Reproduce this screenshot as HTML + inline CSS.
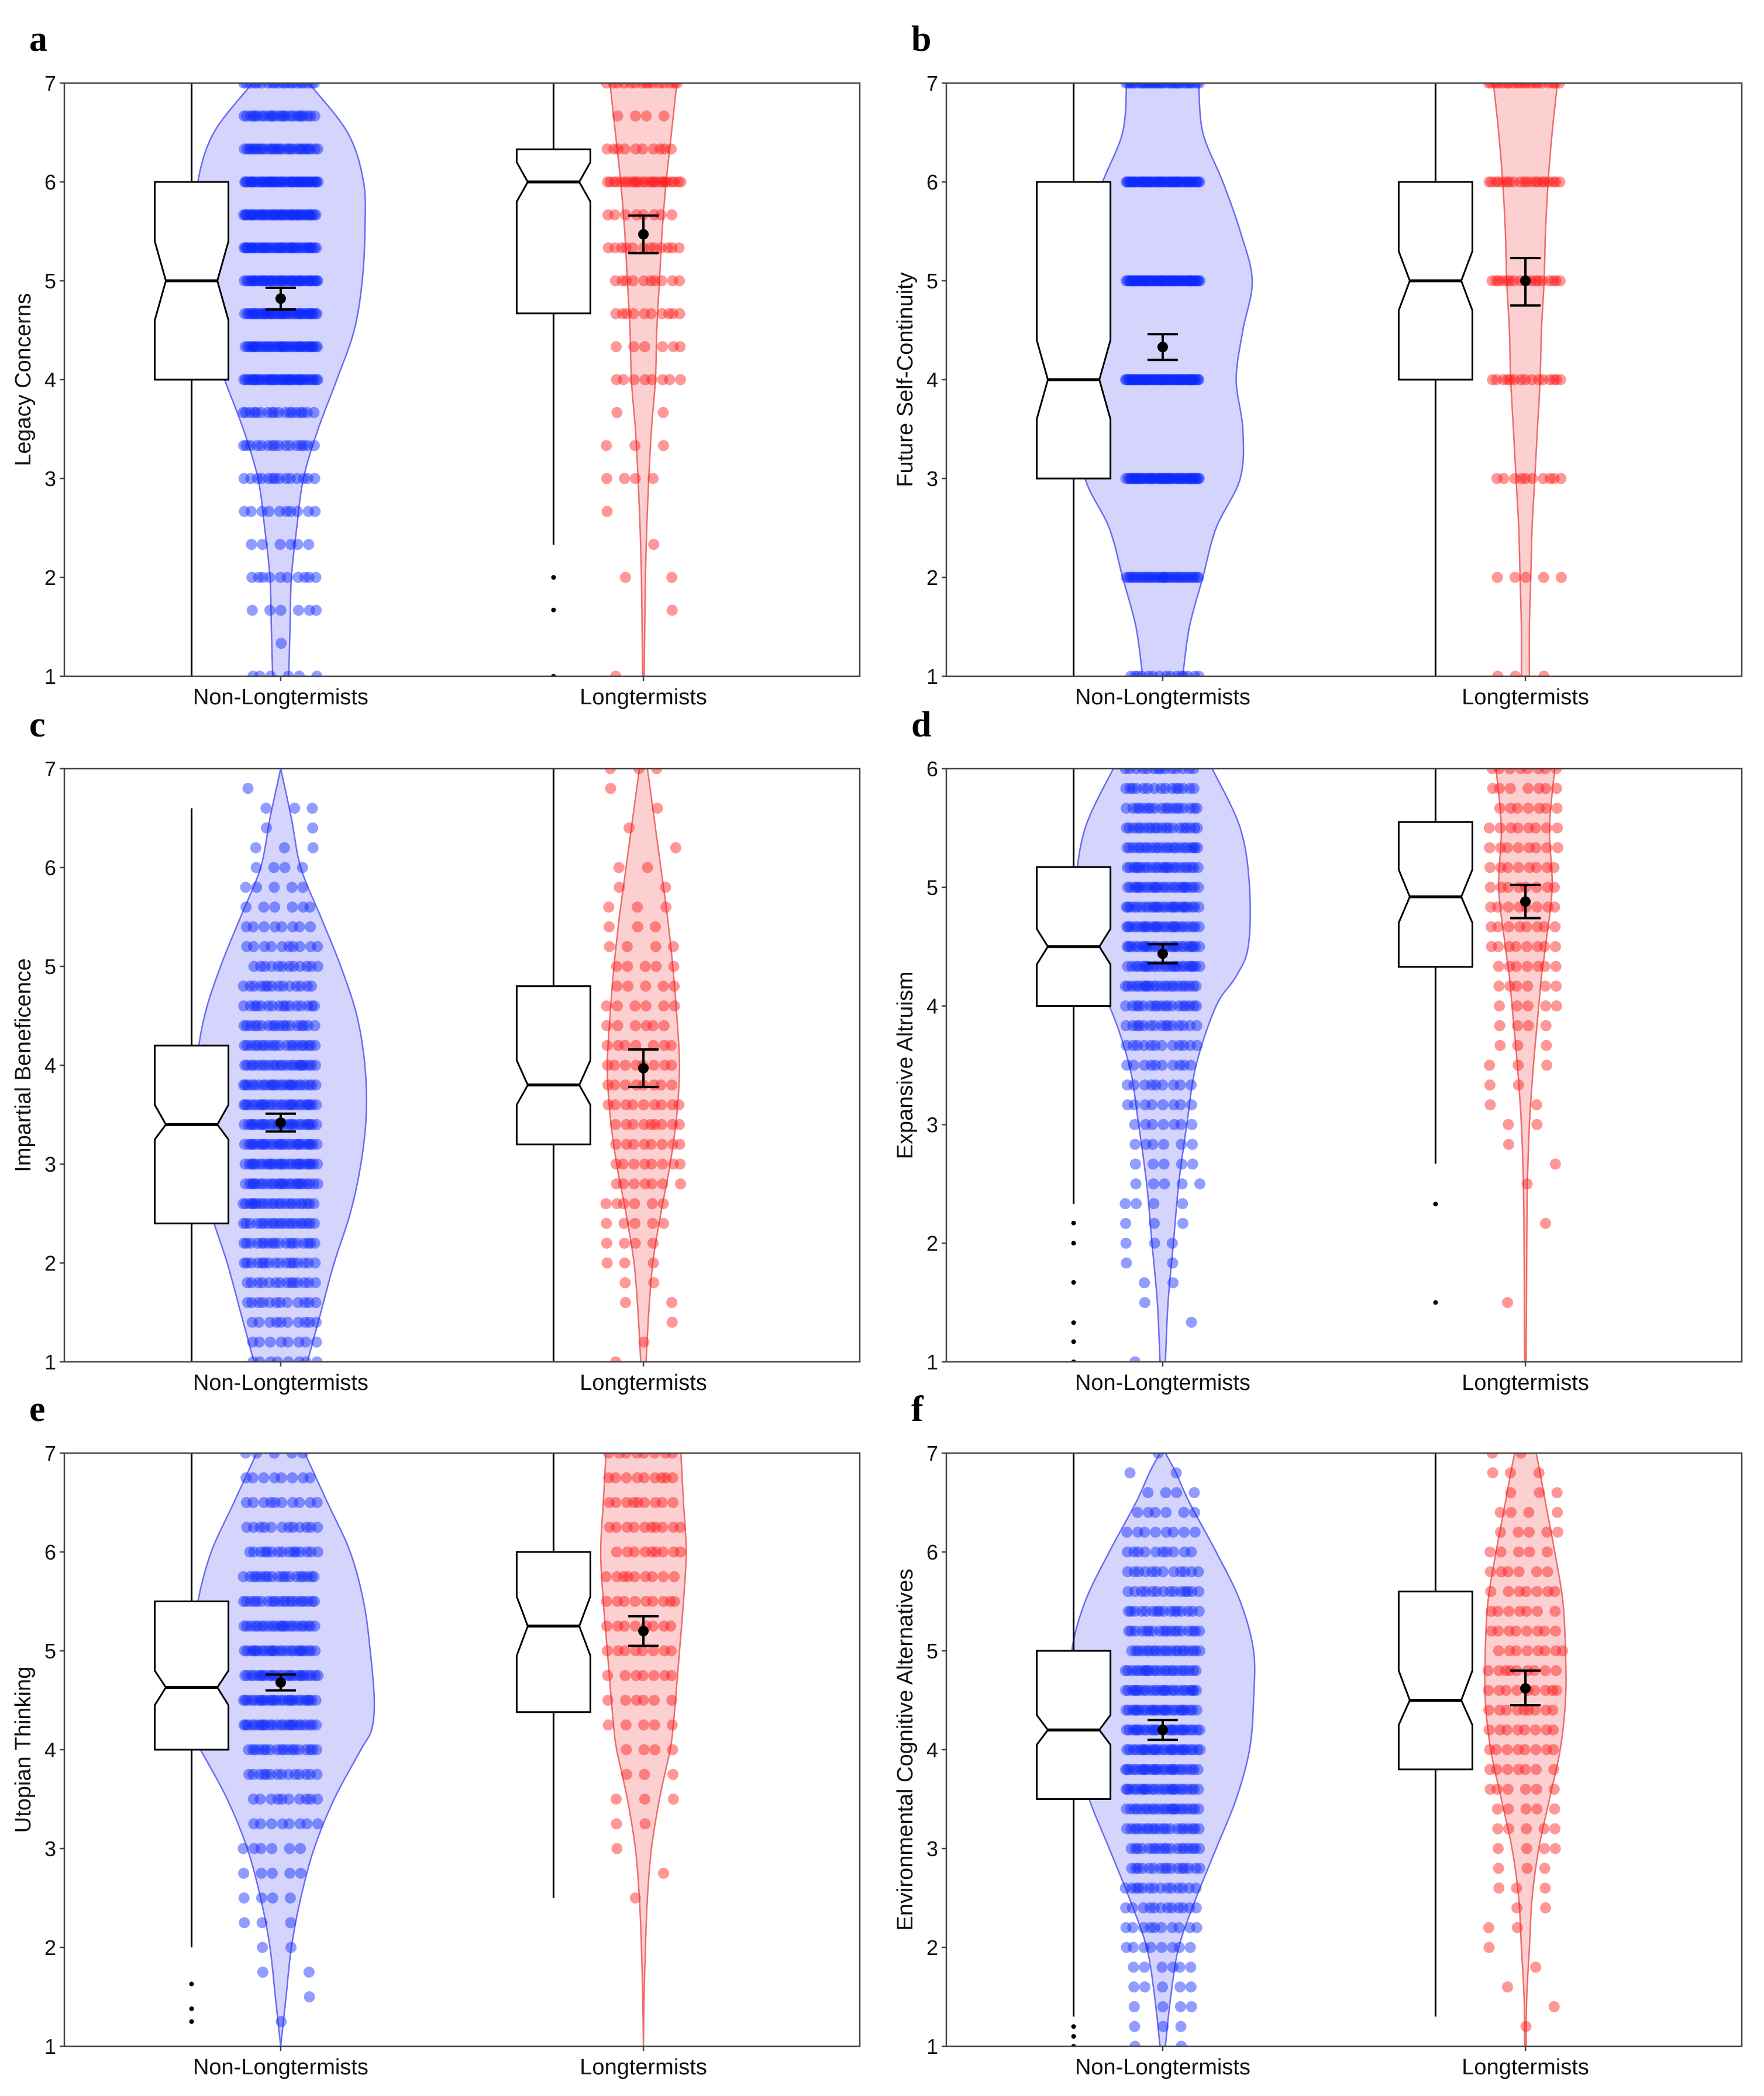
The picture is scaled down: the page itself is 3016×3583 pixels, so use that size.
<!DOCTYPE html>
<html><head><meta charset="utf-8"><style>
html,body{margin:0;padding:0;background:#fff}
svg{display:block}
</style></head><body>
<svg id="fig" width="3016" height="3583" viewBox="0 0 3016 3583" xmlns="http://www.w3.org/2000/svg" style="font-family:'Liberation Sans',Arial,sans-serif"></svg>
<script>
// ---------- DATA ----------
const panelLetters = ["a","b","c","d","e","f"];
const panelTitles = ["Legacy Concerns","Future Self-Continuity","Impartial Beneficence","Expansive Altruism","Utopian Thinking","Environmental Cognitive Alternatives"];
const panelYMin = [1,1,1,1,1,1];
const panelYMax = [7,7,7,6,7,7];
const categories = ["Non-Longtermists","Longtermists"];

// box stats [q1, median, q3, whiskerLow, whiskerHigh, notchLow, notchHigh]
const boxNon = [[4,5,6,1,7,4.6,5.4],[3,4,6,1,7,3.6,4.4],[2.4,3.4,4.2,1,6.6,3.25,3.6],[4,4.5,5.17,2.33,6,4.35,4.65],[4,4.63,5.5,2,7,4.45,4.8],[3.5,4.2,5,1.3,7,4.05,4.35]];
const boxLong = [[4.67,6,6.33,2.33,7,5.8,6.2],[4,5,6,1,7,4.7,5.3],[3.2,3.8,4.8,1,7,3.6,4.05],[4.33,4.92,5.55,2.67,6,4.7,5.15],[4.38,5.25,6,2.5,7,4.95,5.55],[3.8,4.5,5.6,1.3,7,4.25,4.8]];
const outliersNon = [[],[],[],[2.17,2,1.67,1.33,1.17,1],[1.63,1.38,1.25],[1.2,1.1,1.0]];
const outliersLong = [[2,1.67,1],[],[],[2.33,1.5],[],[]];

// mean [mean, ciLow, ciHigh]
const meanNon = [[4.82,4.71,4.93],[4.33,4.2,4.46],[3.42,3.33,3.51],[4.44,4.36,4.52],[4.68,4.6,4.76],[4.2,4.1,4.3]];
const meanLong = [[5.47,5.28,5.66],[5.0,4.75,5.23],[3.97,3.78,4.16],[4.88,4.74,5.02],[5.2,5.05,5.35],[4.62,4.45,4.8]];

// violin density profiles: value levels and relative density
const vLevels = [
 [1,1.5,2,2.5,3,3.5,4,4.5,5,5.5,6,6.5,7],
 [1,1.5,2,2.5,3,3.5,4,4.5,5,5.5,6,6.5,7],
 [1,1.5,2,2.5,3,3.5,4,4.5,5,5.5,6,6.5,7],
 [1,1.5,2,2.5,3,3.5,4,4.25,4.5,5,5.5,6],
 [1,1.5,2,2.5,3,3.5,4,4.2,4.5,5,5.5,6,6.5,7],
 [1,1.5,2,2.5,3,3.5,4,4.5,5,5.5,6,6.5,6.8,7]];
const vDensNon = [
 [6,7,8,12,17,28,42,55,61,63,62,50,21],
 [15,20,30,40,58,60,55,60,67,58,45,30,27],
 [20,30,40,52,60,64,63,57,45,30,15,8,0],
 [2,4,8,12,18,25,40,55,64,65,58,37],
 [0,4,8,15,25,40,60,68,70,67,62,52,35,18],
 [2,6,12,25,40,55,65,68,68,58,40,20,10,2]];
const vDensLong = [
 [0.5,1,1.5,2.5,4,6,9,10,12,14,17,21,25],
 [3,3,4,5,7,9,11,12,14,15,17,20,24],
 [2,4,7,13,20,25,27,25,22,18,13,8,3],
 [0.5,0.8,1,1.5,3,6,10,12,15,20,18,22],
 [0,0.5,1.5,3,6,12,20,22,24,27,30,32,30,28],
 [0.5,1,3,5,10,18,26,30,30,28,22,15,11,8]];

// dot data: levels and counts
const dotStart = [1,1,1,1,1,1];
const dotStep = [1/3,1,0.2,1/6,0.25,0.2];
const dotCountsNon = [
 [6,1,6,10,6,10,14,16,18,40,38,40,42,40,42,45,30,25,20],
 [15,35,50,60,60,50,30],
 [8,8,10,12,14,16,18,20,22,24,26,26,26,25,24,22,20,18,16,14,12,10,8,6,5,4,3,2,3,1,0],
 [1,0,1,1,2,2,3,3,4,5,5,6,7,8,9,10,12,15,18,22,24,25,25,25,24,23,22,20,18,15,14],
 [0,1,1,2,2,3,4,5,6,8,10,14,18,24,26,26,24,22,20,18,15,12,10,8,5],
 [2,3,4,5,6,8,10,12,14,16,18,20,22,24,25,26,26,25,24,22,20,18,16,14,12,10,8,6,4,2,1]];
const dotCountsLong = [
 [1,0,1,2,1,1,4,3,2,8,6,10,10,12,8,25,10,4,15],
 [3,5,10,15,18,20,20],
 [1,1,1,2,2,3,4,5,6,7,8,8,9,9,8,8,7,6,6,5,5,4,3,3,2,2,1,1,1,1,3],
 [0,0,0,1,0,0,0,1,0,1,1,1,2,2,2,3,3,4,5,6,7,8,8,8,8,8,8,8,7,7,8],
 [0,0,0,0,0,0,1,1,1,2,3,3,4,5,6,7,8,8,9,9,9,10,9,9,8],
 [0,1,1,1,1,1,2,2,3,3,4,5,5,6,7,8,8,9,9,9,8,8,7,7,6,5,5,4,3,3,2]];

// ---------- LAYOUT ----------
const NS = "http://www.w3.org/2000/svg";
const svg = document.getElementById('fig');
const colX = [110,1618], plotW = 1360;
const rowY = [142,1314,2484], plotH = 1014;
const S = 2.285;
function mk(tag, attrs, parent){const e=document.createElementNS(NS,tag);for(const k in attrs)e.setAttribute(k,attrs[k]);(parent||svg).appendChild(e);return e;}

function smoothPath(pts){
  let d = "M"+pts[0][0].toFixed(1)+","+pts[0][1].toFixed(1);
  for(let i=0;i<pts.length-1;i++){
    const p0=pts[Math.max(0,i-1)],p1=pts[i],p2=pts[i+1],p3=pts[Math.min(pts.length-1,i+2)];
    const c1=[p1[0]+(p2[0]-p0[0])/6,p1[1]+(p2[1]-p0[1])/6];
    const c2=[p2[0]-(p3[0]-p1[0])/6,p2[1]-(p3[1]-p1[1])/6];
    d+=" C"+c1[0].toFixed(1)+","+c1[1].toFixed(1)+" "+c2[0].toFixed(1)+","+c2[1].toFixed(1)+" "+p2[0].toFixed(1)+","+p2[1].toFixed(1);
  }
  return d;
}

for(let p=0;p<6;p++){
  const L = colX[p%2], T = rowY[Math.floor(p/2)];
  const ymin = panelYMin[p], ymax = panelYMax[p];
  const yS = v => T + (ymax - v)/(ymax-ymin)*plotH;
  const xS = frac => L + frac*plotW;
  const g = mk('g',{});
  
  
  const clipId='clip'+p;
  const cp = mk('clipPath',{id:clipId},g);
  mk('rect',{x:L,y:T,width:plotW,height:plotH},cp);

  // panel letter
  const pl = mk('text',{x:L-60,y:T-55,'font-size':62,'font-weight':'bold',style:"font-family:'Liberation Serif',serif"},g);
  pl.textContent = panelLetters[p];
  
  

  const inner = mk('g',{'clip-path':'url(#'+clipId+')'},g);
  const groups = [
    {box:boxNon[p],out:outliersNon[p],mean:meanNon[p],dens:vDensNon[p],cnt:dotCountsNon[p],boxF:0.16,vF:0.272,fill:'rgba(120,120,245,0.32)',stroke:'#6a6af5',dot:'rgba(10,40,255,0.45)',name:'non-longtermists'},
    {box:boxLong[p],out:outliersLong[p],mean:meanLong[p],dens:vDensLong[p],cnt:dotCountsLong[p],boxF:0.615,vF:0.728,fill:'rgba(245,110,110,0.32)',stroke:'#f06a6a',dot:'rgba(255,25,25,0.45)',name:'longtermists'}];
  groups.forEach((gr,gi)=>{
    const cx = xS(gr.vF);
    const lv = vLevels[p];
    const right = lv.map((v,i)=>[cx+gr.dens[i]*S, yS(v)]);
    const left = lv.map((v,i)=>[cx-gr.dens[i]*S, yS(v)]).reverse();
    const d = smoothPath(right)+" L"+left[0][0].toFixed(1)+","+left[0][1].toFixed(1)+smoothPath(left).replace(/^M[^C]*/,' ')+" Z";
    const vp = mk('path',{d:d,fill:gr.fill,stroke:gr.stroke,'stroke-width':2.5},inner);
    
    
    const cnts = gr.cnt;
    for(let k=0;k<cnts.length;k++){
      const val = dotStart[p]+k*dotStep[p];
      for(let i=0;i<cnts[k];i++){
        const j = ((i*0.6180339+k*0.377+0.13)%1)-0.5;
        const c = mk('circle',{cx:(cx+j*2*64).toFixed(1),cy:yS(val).toFixed(1),r:9.5,fill:gr.dot},inner);
        
        
      }
    }
    const bx = xS(gr.boxF), hw = 63, nw = 44;
    const [q1,med,q3,wl,wh,nl,nh] = gr.box;
    const wk = mk('line',{x1:bx,x2:bx,y1:yS(wh),y2:yS(wl),stroke:'#000','stroke-width':3},inner);
    
    
    const bpts = [[bx-hw,yS(q3)],[bx+hw,yS(q3)],[bx+hw,yS(nh)],[bx+nw,yS(med)],[bx+hw,yS(nl)],[bx+hw,yS(q1)],[bx-hw,yS(q1)],[bx-hw,yS(nl)],[bx-nw,yS(med)],[bx-hw,yS(nh)]];
    const bp = mk('polygon',{points:bpts.map(a=>a[0].toFixed(1)+','+a[1].toFixed(1)).join(' '),fill:'#fff',stroke:'#000','stroke-width':3},inner);
    
    
    const ml = mk('line',{x1:bx-nw,x2:bx+nw,y1:yS(med),y2:yS(med),stroke:'#000','stroke-width':5},inner);
    
    
    gr.out.forEach(o=>{
      const oc = mk('circle',{cx:bx,cy:yS(o),r:4,fill:'#000'},inner);
      
      
    });
    const [m,lo,hi] = gr.mean;
    const mg = mk('g',{stroke:'#000','stroke-width':4},inner);
    
    
    mk('line',{x1:cx,x2:cx,y1:yS(hi),y2:yS(lo)},mg);
    mk('line',{x1:cx-26,x2:cx+26,y1:yS(hi),y2:yS(hi)},mg);
    mk('line',{x1:cx-26,x2:cx+26,y1:yS(lo),y2:yS(lo)},mg);
    mk('circle',{cx:cx,cy:yS(m),r:9,fill:'#000',stroke:'none'},mg);
    const xl = mk('text',{x:cx,y:T+plotH+48,'font-size':38,'text-anchor':'middle',fill:'#111'},g);
    xl.textContent = categories[gi];
    
    
  });
  const fr = mk('rect',{x:L,y:T,width:plotW,height:plotH,fill:'none',stroke:'#444','stroke-width':2.5},g);
  
  
  for(let v=ymin; v<=ymax; v++){
    const tl = mk('line',{x1:L-8,x2:L,y1:yS(v),y2:yS(v),stroke:'#444','stroke-width':2.5},g);
    
    
    const tt = mk('text',{x:L-14,y:yS(v)+13,'font-size':36,'text-anchor':'end',fill:'#111'},g);
    tt.textContent = v;
    
    
  }
  [0.272,0.728].forEach(f=>{
    const t = mk('line',{x1:xS(f),x2:xS(f),y1:T+plotH,y2:T+plotH+8,stroke:'#444','stroke-width':2.5},g);
    
    
  });
  const yt = mk('text',{x:0,y:0,'font-size':38,'text-anchor':'middle',fill:'#111',transform:'translate('+(L-58)+','+(T+plotH/2)+') rotate(-90)'},g);
  yt.textContent = panelTitles[p];
  
  
}
</script>
</body></html>
